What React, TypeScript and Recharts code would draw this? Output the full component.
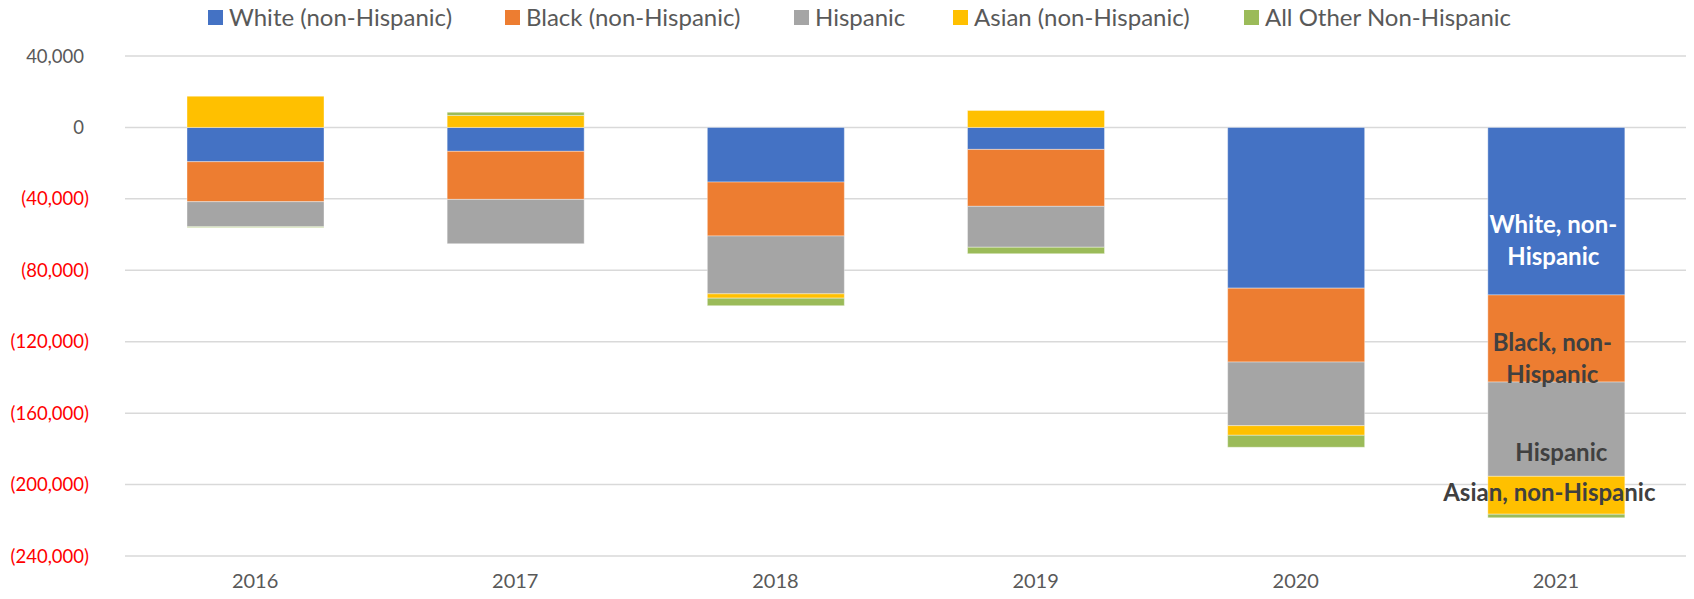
import React from 'react'
import {
  BarChart,
  Bar,
  XAxis,
  YAxis,
  CartesianGrid,
  Legend,
  LabelList,
} from 'recharts'

const years = ['2016', '2017', '2018', '2019', '2020', '2021']

const white = [-19200, -13400, -30600, -12300, -90000, -93800]
const black = [-22400, -26900, -30200, -31900, -41400, -48800]
const hispanic = [-14000, -24800, -32400, -22900, -35600, -52800]
const asian = [17500, 6700, -2400, 9500, -5400, -21200]
const other = [-500, 1800, -4200, -3600, -6700, -2000]

const seriesNames = [
  'White (non-Hispanic)',
  'Black (non-Hispanic)',
  'Hispanic',
  'Asian (non-Hispanic)',
  'All Other Non-Hispanic',
]

// labels Excel put inside the 2021 bar
const labelText = [
  ['White, non-', 'Hispanic'],
  ['Black, non-', 'Hispanic'],
  ['Hispanic'],
  ['Asian, non-Hispanic'],
  [],
]

const yTicks = [40000, 0, -40000, -80000, -120000, -160000, -200000, -240000]

const COLORS = ['#4472C4', '#ED7D31', '#A5A5A5', '#FFC000', '#9BBB59']
const KEYS = ['white', 'black', 'hispanic', 'asian', 'other']
const FONT = 'Lato, "Noto Sans", sans-serif'

const data = years.map((year, i) => ({
  year,
  white: white[i],
  black: black[i],
  hispanic: hispanic[i],
  asian: asian[i],
  other: other[i],
}))

// nudges for the 2021 labels (Excel placed them by hand)
const labelStyle = [
  { dx: -3, dy: 29, fill: '#FFFFFF' },
  { dx: -4, dy: 20, fill: '#404040' },
  { dx: 5, dy: 23, fill: '#404040' },
  { dx: -7, dy: -3, fill: '#404040' },
  { dx: 0, dy: 0, fill: '#404040' },
]

const legendX = [208, 505, 794, 953, 1244]

const fmt = (v: number) => {
  const s = Math.abs(v).toLocaleString('en-US')
  return v < 0 ? `(${s})` : s
}

const YTick = ({ y, payload }: any) => {
  const v = payload.value as number
  return (
    <text
      x={v < 0 ? 89 : 84}
      y={y}
      dy={6.5}
      textAnchor="end"
      fontFamily={FONT}
      fontSize={18.5}
      fill={v < 0 ? '#FF0000' : '#595959'}
    >
      {fmt(v)}
    </text>
  )
}

const XTick = ({ x, y, payload }: any) => (
  <text x={x} y={y} dy={24} textAnchor="middle" fontFamily={FONT} fontSize={20} fill="#595959">
    {payload.value}
  </text>
)

const makeLabel = (s: number) => (props: any) => {
  const { x, y, width, height, index } = props
  if (index !== years.length - 1) return null
  const lines = labelText[s]
  if (!lines.length) return null
  const st = labelStyle[s]
  const cx = x + width / 2 + st.dx
  const cy = y + height / 2 + st.dy
  const lh = 32
  const top = cy - ((lines.length - 1) * lh) / 2
  return (
    <text
      textAnchor="middle"
      fontFamily={FONT}
      fontWeight="bold"
      fontSize={24}
      fill={st.fill}
    >
      {lines.map((l, i) => (
        <tspan key={i} x={cx} y={top + i * lh} dy={8.5}>
          {l}
        </tspan>
      ))}
    </text>
  )
}

const LegendContent = () => (
  <div style={{ position: 'relative', width: 1694, height: 40, fontFamily: FONT }}>
    {seriesNames.map((n, i) => (
      <div
        key={n}
        style={{
          position: 'absolute',
          left: legendX[i],
          top: 3,
          display: 'flex',
          alignItems: 'center',
          whiteSpace: 'nowrap',
        }}
      >
        <span style={{ width: 15, height: 15, background: COLORS[i], display: 'inline-block' }} />
        <span style={{ marginLeft: 6, fontSize: 24, color: '#595959', lineHeight: '28px' }}>{n}</span>
      </div>
    ))}
  </div>
)

export default function App() {
  return (
    <div style={{ position: 'fixed', left: 0, top: 0, width: 1694, height: 599, background: '#fff' }}>
      <BarChart
        width={1694}
        height={599}
        data={data}
        stackOffset="sign"
        margin={{ top: 56, right: 8, bottom: 0, left: 0 }}
        barSize={137}
      >
        <CartesianGrid vertical={false} stroke="#D9D9D9" strokeWidth={1.5} />
        <XAxis dataKey="year" height={43} axisLine={false} tickLine={false} tick={<XTick />} />
        <YAxis
          width={125}
          domain={[-240000, 40000]}
          ticks={yTicks}
          interval={0}
          axisLine={false}
          tickLine={false}
          tick={<YTick />}
        />
        <Legend
          layout="horizontal"
          verticalAlign="middle"
          align="center"
          wrapperStyle={{ top: 0, left: 0, width: 1694, height: 40 }}
          content={<LegendContent />}
        />
        {KEYS.map((k, i) => (
          <Bar
            key={k}
            dataKey={k}
            name={seriesNames[i]}
            stackId="a"
            fill={COLORS[i]}
            stroke="#FFFFFF"
            strokeOpacity={0.5}
            strokeWidth={0.75}
            isAnimationActive={false}
          >
            <LabelList dataKey={k} content={makeLabel(i)} />
          </Bar>
        ))}
      </BarChart>
    </div>
  )
}
